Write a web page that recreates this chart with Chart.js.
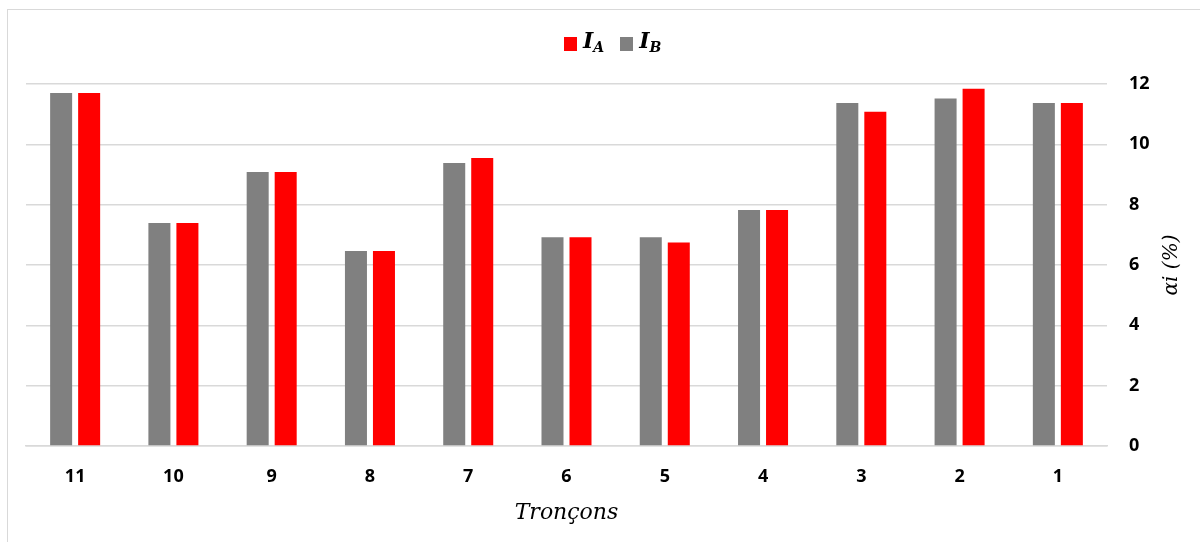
<!DOCTYPE html>
<html>
<head>
<meta charset="utf-8">
<script src="https://cdn.jsdelivr.net/npm/chart.js@4.4.1/dist/chart.umd.min.js"></script>
<style>
  html, body { margin: 0; padding: 0; background: #fff; }
  #wrap { position: relative; width: 1200px; height: 542px; overflow: hidden; }
  #frame { position: absolute; left: 7px; top: 9px; width: 1300px; height: 700px; border: 1.5px solid #d9d9d9; box-sizing: border-box; pointer-events: none; }
  canvas { position: absolute; left: 0; top: 0; }
  #legend { position: absolute; left: 564px; top: 27px; display: flex; align-items: center; font-family: "DejaVu Serif", serif; color: #000; }
  .sw { display: inline-block; width: 13px; height: 14px; margin-right: 6px; }
  .lab { font-style: italic; font-weight: bold; font-size: 22px; margin-right: 16px; line-height: 26px; }
  .lab sub { font-size: 14px; vertical-align: -4px; font-weight: bold; }
</style>
</head>
<body>
<div id="wrap">
  <canvas id="c" width="1200" height="542"></canvas>
  <div id="frame"></div>
  <div id="legend">
    <span class="sw" style="background:#ff0000"></span><span class="lab">I<sub>A</sub></span>
    <span class="sw" style="background:#808080"></span><span class="lab">I<sub>B</sub></span>
  </div>
</div>
<script>
const categories = ['11', '10', '9', '8', '7', '6', '5', '4', '3', '2', '1'];
const seriesIB = [11.70, 7.39, 9.08, 6.46, 9.38, 6.92, 6.92, 7.82, 11.37, 11.52, 11.37];
const seriesIA = [11.70, 7.39, 9.08, 6.46, 9.55, 6.92, 6.75, 7.82, 11.08, 11.84, 11.37];
const yTicks = [0, 2, 4, 6, 8, 10, 12];
const xTitle = 'Tronçons';
const yTitle = 'αi (%)';

const tickFont = { family: '"Open Sans", "Liberation Sans", sans-serif', size: 18, weight: 'bold' };

const yTitlePlugin = {
  id: 'yTitle',
  afterDraw(chart) {
    const ctx = chart.ctx;
    const area = chart.chartArea;
    ctx.save();
    ctx.translate(1172, (area.top + area.bottom) / 2);
    ctx.rotate(-Math.PI / 2);
    ctx.font = 'italic 20px "DejaVu Serif", serif';
    ctx.fillStyle = '#000';
    ctx.textAlign = 'center';
    ctx.textBaseline = 'middle';
    ctx.fillText(yTitle, 0, 0);
    ctx.restore();
  }
};

new Chart(document.getElementById('c'), {
  type: 'bar',
  data: {
    labels: categories,
    datasets: [
      { label: 'I_B', data: seriesIB, backgroundColor: '#808080', borderWidth: 0 },
      { label: 'I_A', data: seriesIA, backgroundColor: '#ff0000', borderWidth: 0 }
    ]
  },
  options: {
    responsive: false,
    animation: false,
    devicePixelRatio: 1,
    layout: { padding: { left: 26, top: 84, right: 0, bottom: 0 } },
    datasets: { bar: { categoryPercentage: 0.57, barPercentage: 0.786 } },
    plugins: {
      legend: { display: false },
      tooltip: { enabled: false }
    },
    scales: {
      x: {
        grid: { display: false, drawTicks: false },
        border: { display: true, color: '#d9d9d9', width: 1.5 },
        ticks: { font: tickFont, color: '#000', padding: 20, maxRotation: 0 },
        title: {
          display: true, text: xTitle, color: '#000',
          font: { family: '"DejaVu Serif", serif', size: 22, style: 'italic' },
          padding: { top: 0, bottom: 16 }
        },
        afterFit(scale) { scale.height = 96; }
      },
      y: {
        position: 'right',
        min: 0, max: 12,
        afterBuildTicks(scale) { scale.ticks = yTicks.map(v => ({ value: v })); },
        grid: { color: '#d9d9d9', lineWidth: 1.5, drawTicks: false },
        border: { display: false },
        ticks: { font: tickFont, color: '#000', padding: 22 },
        afterFit(scale) { scale.width = 93; }
      }
    }
  },
  plugins: [yTitlePlugin]
});
</script>
</body>
</html>
